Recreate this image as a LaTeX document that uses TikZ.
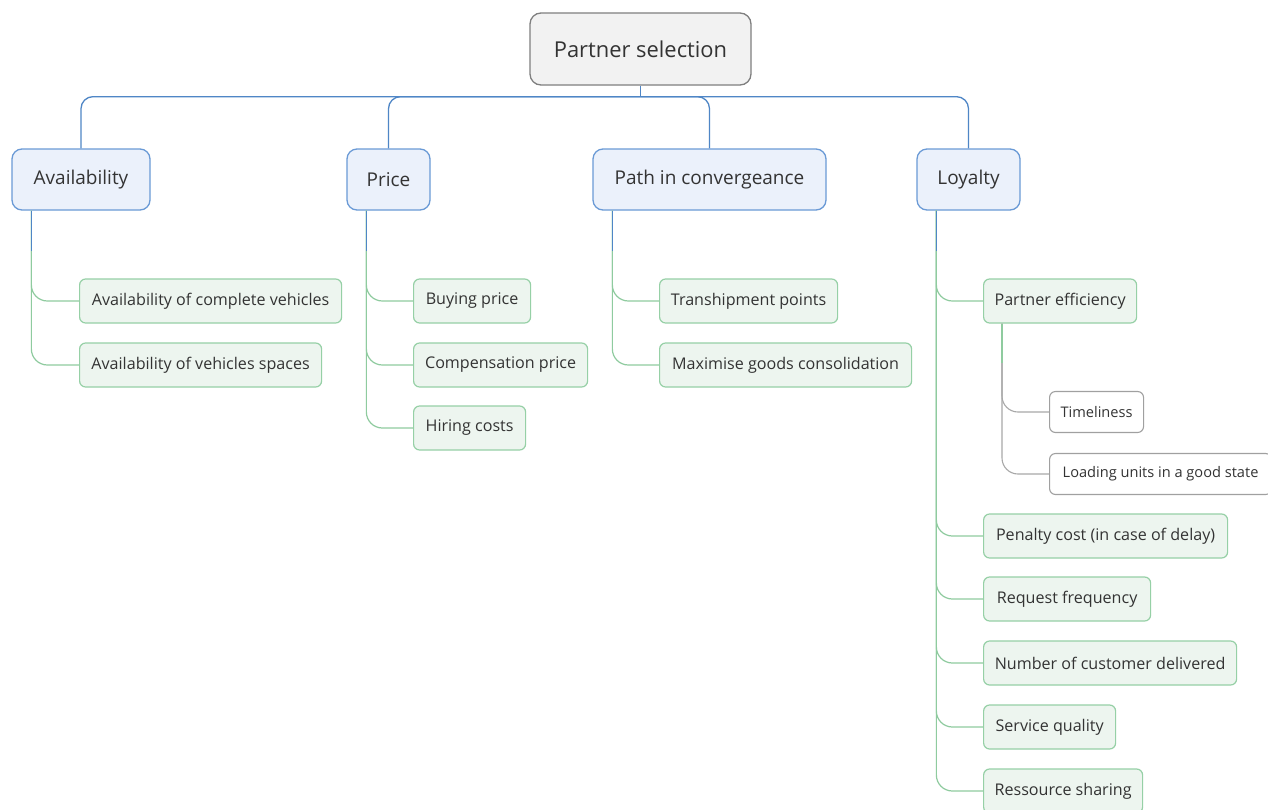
\documentclass[tikz,border=0pt]{standalone}
\usepackage{fontspec}
\setmainfont{Open Sans}
\definecolor{txt}{HTML}{333333}
\definecolor{rootfill}{HTML}{F2F2F2}
\definecolor{rootdraw}{HTML}{7F7F7F}
\definecolor{mainfill}{HTML}{EBF1FB}
\definecolor{maindraw}{HTML}{6A9AD6}
\definecolor{blueline}{HTML}{4F86C6}
\definecolor{leaffill}{HTML}{EDF5EF}
\definecolor{leafdraw}{HTML}{96D0A6}
\definecolor{greenline}{HTML}{8FCB9F}
\definecolor{grayline}{HTML}{A8A8A8}
\definecolor{subdraw}{HTML}{A0A0A0}
\tikzset{
  rootbox/.style={draw=rootdraw, fill=rootfill, line width=1.3pt, rounded corners=11pt, text=txt, minimum height=72pt, font=\fontsize{21.9}{25}\selectfont, inner sep=0pt},
  mainbox/.style={draw=maindraw, fill=mainfill, line width=1.3pt, rounded corners=10pt, text=txt, minimum height=61pt, font=\fontsize{19}{22}\selectfont, inner sep=0pt},
  leafbox/.style={draw=leafdraw, fill=leaffill, line width=1.2pt, rounded corners=6pt, text=txt, minimum height=44pt, font=\fontsize{16.1}{19}\selectfont, inner sep=0pt, anchor=west},
  subbox/.style={draw=subdraw, fill=white, line width=1.1pt, rounded corners=6pt, text=txt, minimum height=41pt, font=\fontsize{14.6}{17}\selectfont, inner sep=0pt, anchor=west},
  bconn/.style={draw=blueline, line width=1.3pt, rounded corners=12pt},
  gconn/.style={draw=greenline, line width=1.2pt, rounded corners=16pt},
  sconn/.style={draw=grayline, line width=1.1pt, rounded corners=16pt},
}
\begin{document}
\begin{tikzpicture}[x=1pt,y=-1pt]
\useasboundingbox[fill=white] (0,0) rectangle (1268,809);
% root
\node[rootbox, minimum width=221pt] (root) at (640.5,49) {Partner selection};
% main nodes
\node[mainbox, minimum width=138pt] (avail) at (81,179.5) {Availability};
\node[mainbox, minimum width=83pt] (price) at (388.5,179.5) {Price};
\node[mainbox, minimum width=233pt] (path) at (709.5,179.5) {Path in convergeance};
\node[mainbox, minimum width=103pt] (loyal) at (968.5,179.5) {Loyalty};
% leaves
\node[leafbox, minimum width=262pt] (a1) at (79,301) {Availability of complete vehicles};
\node[leafbox, minimum width=242pt] (a2) at (79,365) {Availability of vehicles spaces};
\node[leafbox, minimum width=117pt] (p1) at (413,301) {Buying price};
\node[leafbox, minimum width=174pt] (p2) at (413,365) {Compensation price};
\node[leafbox, minimum width=112pt] (p3) at (413,428) {Hiring costs};
\node[leafbox, minimum width=178pt] (c1) at (659,301) {Transhipment points};
\node[leafbox, minimum width=252pt] (c2) at (659,365) {Maximise goods consolidation};
\node[leafbox, minimum width=153pt] (l1) at (983,301) {Partner efficiency};
\node[subbox, minimum width=94pt] (t1) at (1049,412) {Timeliness};
\node[subbox, minimum width=222pt] (t2) at (1049,474) {Loading units in a good state};
\node[leafbox, minimum width=244pt] (l2) at (983,536) {Penalty cost (in case of delay)};
\node[leafbox, minimum width=167pt] (l3) at (983,599) {Request frequency};
\node[leafbox, minimum width=253pt] (l4) at (983,663) {Number of customer delivered};
\node[leafbox, minimum width=132pt] (l5) at (983,727) {Service quality};
\node[leafbox, minimum width=159pt] (l6) at (983,791) {Ressource sharing};
% root connectors
\coordinate (bar) at ([yshift=-11pt]root.south);
\draw[blueline, line width=1.3pt] (root.south) -- (bar);
\foreach \m in {avail,price,path,loyal}{
  \draw[bconn] (bar) -| (\m.north);
}
% leaf connectors
\foreach \m/\kids in {avail/{a1,a2}, price/{p1,p2,p3}, path/{c1,c2}, loyal/{l1,l2,l3,l4,l5,l6}}{
  \coordinate (s) at ([xshift=20pt]\m.south west);
  \foreach \k in \kids { \draw[gconn] (s) |- (\k.west); }
  \draw[blueline, line width=1.3pt] (s) -- ++(0,40);
}
% sub connectors
\coordinate (s2) at ([xshift=19pt]l1.south west);
\foreach \k in {t1,t2}{ \draw[sconn] (s2) |- (\k.west); }
\draw[greenline, line width=1.2pt] (s2) -- ++(0,39);
\end{tikzpicture}
\end{document}
